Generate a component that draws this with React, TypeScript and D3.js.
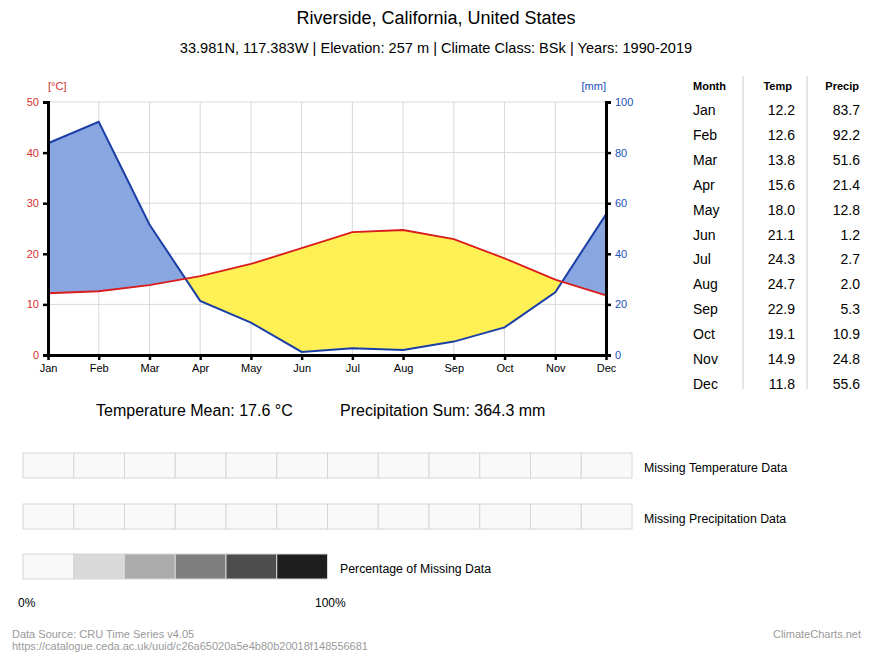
import * as d3 from "d3";
import {useEffect, useRef} from "react";

const months = ["Jan", "Feb", "Mar", "Apr", "May", "Jun", "Jul", "Aug", "Sep", "Oct", "Nov", "Dec"];
const temps = [12.2, 12.6, 13.8, 15.6, 18.0, 21.1, 24.3, 24.7, 22.9, 19.1, 14.9, 11.8];
const precips = [83.7, 92.2, 51.6, 21.4, 12.8, 1.2, 2.7, 2.0, 5.3, 10.9, 24.8, 55.6];
const tempTicks = [0, 10, 20, 30, 40, 50];
const precipTicks = [0, 20, 40, 60, 80, 100];
const missingTemp = [0, 0, 0, 0, 0, 0, 0, 0, 0, 0, 0, 0];
const missingPrecip = [0, 0, 0, 0, 0, 0, 0, 0, 0, 0, 0, 0];
const legendShades = ["#f9f9f9", "#d9d9d9", "#ababab", "#7f7f7f", "#4d4d4d", "#1e1e1e"];
// summary values as printed by the source (computed from unrounded data)
const tempMean = 17.6;
const precipSum = 364.3;

const W = 873, H = 657;
const FONT = "Liberation Sans, Arial, sans-serif";

export default function App() {
    const svgRef = useRef(null);

    useEffect(() => {
        if (!svgRef.current) return;
        const svg = d3.select(svgRef.current);
        svg.selectAll("*").remove();
        svg.attr("font-family", FONT);

        const x = d3.scalePoint<string>().domain(months).range([48, 606]);
        const yT = d3.scaleLinear().domain([0, 50]).range([355, 102]);
        const yP = d3.scaleLinear().domain([0, 100]).range([355, 102]);

        // titles
        svg.append("text").attr("x", 436).attr("y", 24).attr("text-anchor", "middle")
            .attr("font-size", 18).text("Riverside, California, United States");
        svg.append("text").attr("x", 436).attr("y", 53).attr("text-anchor", "middle")
            .attr("font-size", 14.6).text("33.981N, 117.383W | Elevation: 257 m | Climate Class: BSk | Years: 1990-2019");

        const g = svg.append("g");

        // grid
        g.selectAll("line.vg").data(months).join("line")
            .attr("x1", d => x(d)!).attr("x2", d => x(d)!)
            .attr("y1", 102).attr("y2", 355)
            .attr("stroke", "#d9d9d9").attr("stroke-width", 1);
        g.selectAll("line.hg").data(tempTicks).join("line")
            .attr("x1", 48).attr("x2", 606)
            .attr("y1", d => yT(d)).attr("y2", d => yT(d))
            .attr("stroke", "#d9d9d9").attr("stroke-width", 1);

        const defs = svg.append("defs");
        const aboveTemp = d3.area<number>().x((_, i) => x(months[i])!).y0(102).y1(d => yT(d));
        const belowTemp = d3.area<number>().x((_, i) => x(months[i])!).y0(d => yT(d)).y1(355);
        defs.append("clipPath").attr("id", "clipAbove").append("path").attr("d", aboveTemp(temps)!);
        defs.append("clipPath").attr("id", "clipBelow").append("path").attr("d", belowTemp(temps)!);

        const belowPrecip = d3.area<number>().x((_, i) => x(months[i])!).y0(d => yP(d)).y1(355);
        const abovePrecip = d3.area<number>().x((_, i) => x(months[i])!).y0(102).y1(d => yP(d));

        g.append("path").attr("d", belowPrecip(precips)!).attr("fill", "#89a6e1")
            .attr("clip-path", "url(#clipAbove)");
        g.append("path").attr("d", abovePrecip(precips)!).attr("fill", "#fff055")
            .attr("clip-path", "url(#clipBelow)");

        const tLine = d3.line<number>().x((_, i) => x(months[i])!).y(d => yT(d));
        const pLine = d3.line<number>().x((_, i) => x(months[i])!).y(d => yP(d));
        g.append("path").attr("d", pLine(precips)!).attr("fill", "none")
            .attr("stroke", "#1a3fa6").attr("stroke-width", 2);
        g.append("path").attr("d", tLine(temps)!).attr("fill", "none")
            .attr("stroke", "#d91c1c").attr("stroke-width", 1.8);

        // axes
        const left = g.append("g").attr("transform", "translate(48,0)")
            .call(d3.axisLeft(yT).tickValues(tempTicks).tickSize(5).tickPadding(4));
        left.select(".domain").attr("stroke-width", 3);
        left.selectAll(".tick line").attr("stroke-width", 2.5);
        left.selectAll("text").attr("fill", "#d62f2f").attr("font-size", 11).attr("font-family", FONT);

        const right = g.append("g").attr("transform", "translate(606,0)")
            .call(d3.axisRight(yP).tickValues(precipTicks).tickSize(5).tickPadding(4));
        right.select(".domain").attr("stroke-width", 3);
        right.selectAll(".tick line").attr("stroke-width", 2.5);
        right.selectAll("text").attr("fill", "#2050b8").attr("font-size", 11).attr("font-family", FONT);

        const bottom = g.append("g").attr("transform", "translate(0,355)")
            .call(d3.axisBottom(x).tickSize(5).tickPadding(4).tickSizeOuter(0));
        bottom.select(".domain").attr("stroke-width", 3);
        bottom.selectAll(".tick line").attr("stroke-width", 2.5);
        bottom.selectAll("text").attr("fill", "#000").attr("font-size", 11).attr("font-family", FONT);

        svg.append("text").attr("x", 48).attr("y", 90).attr("font-size", 11)
            .attr("fill", "#d62f2f").text("[°C]");
        svg.append("text").attr("x", 606).attr("y", 90).attr("font-size", 11).attr("text-anchor", "end")
            .attr("fill", "#2050b8").text("[mm]");

        // summary
        svg.append("text").attr("x", 96).attr("y", 416).attr("font-size", 16)
            .text(`Temperature Mean: ${tempMean.toFixed(1)} °C`);
        svg.append("text").attr("x", 340).attr("y", 416).attr("font-size", 16)
            .text(`Precipitation Sum: ${precipSum.toFixed(1)} mm`);

        // table
        const tbl = svg.append("g");
        const rowY = d3.scaleLinear().domain([0, 11]).range([115, 389]);
        tbl.append("text").attr("x", 693).attr("y", 90).attr("font-size", 11).attr("font-weight", "bold").text("Month");
        tbl.append("text").attr("x", 792).attr("y", 90).attr("font-size", 11).attr("font-weight", "bold").attr("text-anchor", "end").text("Temp");
        tbl.append("text").attr("x", 859).attr("y", 90).attr("font-size", 11).attr("font-weight", "bold").attr("text-anchor", "end").text("Precip");
        [743, 807].forEach(lx => tbl.append("line").attr("x1", lx).attr("x2", lx).attr("y1", 76).attr("y2", 389)
            .attr("stroke", "#cccccc").attr("stroke-width", 1));
        months.forEach((m, i) => {
            tbl.append("text").attr("x", 693).attr("y", rowY(i)).attr("font-size", 14).text(m);
            tbl.append("text").attr("x", 795).attr("y", rowY(i)).attr("font-size", 14).attr("text-anchor", "end").text(temps[i].toFixed(1));
            tbl.append("text").attr("x", 860).attr("y", rowY(i)).attr("font-size", 14).attr("text-anchor", "end").text(precips[i].toFixed(1));
        });

        // missing data
        const cx = d3.scaleBand<number>().domain(d3.range(12)).range([23, 632]);
        const shade = d3.scaleQuantize<string>().domain([0, 100]).range(legendShades);
        const rows: [number[], number, string][] = [
            [missingTemp, 453, "Missing Temperature Data"],
            [missingPrecip, 504, "Missing Precipitation Data"],
        ];
        rows.forEach(([vals, y0, label]) => {
            svg.append("g").selectAll("rect").data(vals).join("rect")
                .attr("x", (_, i) => cx(i)!).attr("y", y0)
                .attr("width", cx.bandwidth()).attr("height", 25)
                .attr("fill", d => shade(d)).attr("stroke", "#d6d6d6").attr("stroke-width", 1);
            svg.append("text").attr("x", 644).attr("y", y0 + 19).attr("font-size", 12.3).text(label);
        });
        svg.append("g").selectAll("rect").data(legendShades).join("rect")
            .attr("x", (_, i) => cx(i)!).attr("y", 554)
            .attr("width", cx.bandwidth()).attr("height", 25)
            .attr("fill", d => d).attr("stroke", "#d6d6d6").attr("stroke-width", 1);
        svg.append("text").attr("x", 340).attr("y", 573).attr("font-size", 12.3).text("Percentage of Missing Data");
        svg.append("text").attr("x", 18).attr("y", 607).attr("font-size", 12).text("0%");
        svg.append("text").attr("x", 315).attr("y", 607).attr("font-size", 12).text("100%");

        // footer
        svg.append("text").attr("x", 12).attr("y", 638).attr("font-size", 11).attr("fill", "#9a9a9a")
            .text("Data Source: CRU Time Series v4.05");
        svg.append("text").attr("x", 12).attr("y", 650).attr("font-size", 11).attr("fill", "#9a9a9a")
            .text("https://catalogue.ceda.ac.uk/uuid/c26a65020a5e4b80b20018f148556681");
        svg.append("text").attr("x", 861).attr("y", 638).attr("font-size", 11).attr("fill", "#9a9a9a")
            .attr("text-anchor", "end").text("ClimateCharts.net");
    }, []);

    return (
        <svg ref={svgRef} width={W} height={H}
             style={{position: "absolute", left: 0, top: 0, background: "#fff"}}></svg>
    );
}
